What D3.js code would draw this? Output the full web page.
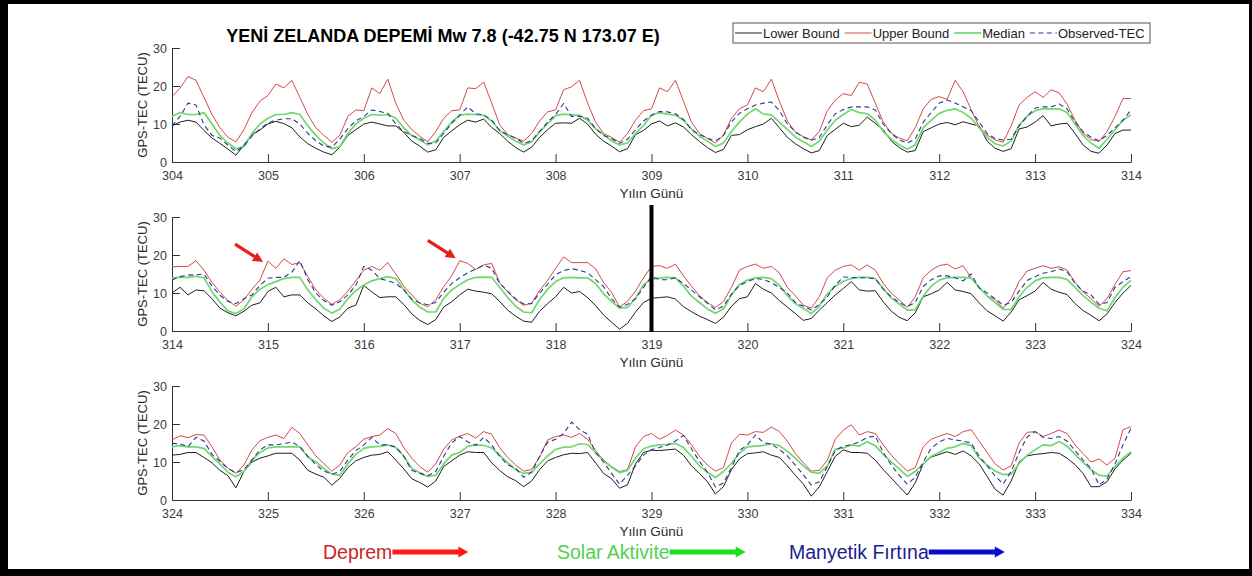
<!DOCTYPE html>
<html>
<head>
<meta charset="utf-8">
<script src="https://cdn.jsdelivr.net/npm/d3@7"></script>
<style>
  body { margin: 0; background: #fff; }
  svg { display: block; font-family: "Liberation Sans", Arial, sans-serif; }
</style>
</head>
<body>
<svg id="chart" width="1252" height="576"></svg>
<script>
// TEC values, one value every 2 hours (12 per day), 10 days per panel + end point

// panel 1: day 304 - 314
const upper1 = [
  17.2, 19.4, 22.5, 21.5, 17, 12.5, 9, 6.5, 5.3, 8.5, 13, 16,
  17.5, 20.5, 19.5, 21.5, 17, 12.5, 9, 7, 5.2, 7, 12, 13.7,
  13.5, 19.5, 18, 21.8, 15.5, 11, 8.5, 6.8, 5.3, 8, 11.5, 13.5,
  13.7, 19.5, 19.3, 21, 15.5, 9.8, 7.2, 6.3, 5.5, 7.5, 10.8, 13.2,
  13.7, 19, 19.8, 21.5, 15.5, 10.5, 7.5, 6.5, 5.2, 7.5, 11, 13.5,
  14, 19.5, 18.5, 21.5, 16, 10.5, 7.5, 6.2, 5, 7, 11.5, 14,
  15, 19.5, 18.5, 21.8, 16, 10.8, 7.8, 6.7, 5.8, 8, 13.5, 16.3,
  18, 17.5, 21, 20.5, 15.5, 10.5, 7.6, 6.3, 5.6, 9, 14, 16.5,
  17.2, 16.5, 21.5, 18.5, 13.7, 9.3, 7.1, 5.8, 5.2, 9.5, 15, 17,
  18.5, 17, 19, 18.2, 15.2, 11, 7.6, 5.9, 5.4, 8, 12, 16.7,
  16.7
];
const median1 = [
  12, 13, 12.5, 12.5, 13, 10, 7, 5, 3.5, 4, 7.5, 10,
  11.5, 12.5, 12.5, 13, 12.5, 9.5, 7, 5, 3.5, 4, 7.5, 10,
  11.5, 12.5, 12.3, 12.5, 11.5, 9, 7, 5.8, 4.5, 5.5, 8, 10.5,
  12.3, 12.6, 12.5, 12.3, 10.8, 8.3, 6.8, 5.5, 4.5, 5.3, 8, 10,
  12.2, 12.6, 12.4, 12.3, 11, 8.8, 7.2, 5.6, 4.5, 5, 7.5, 9.6,
  12.3, 13, 12.6, 12.3, 11, 8.7, 6.8, 5.5, 4.1, 5, 8, 10.5,
  12.6, 14, 12.6, 12.4, 10.5, 8.5, 6.6, 5.3, 4.1, 5.5, 8.5, 11,
  12.5, 13.8, 13, 12.7, 11, 8, 6, 4.5, 3.4, 4.5, 9, 11,
  12.8, 13.6, 14, 13, 11.5, 9, 6.5, 4.8, 4.2, 5.5, 9.7, 12,
  13.5, 14, 14, 14, 13, 10, 7, 5, 3.6, 6, 8.5, 11,
  12.4
];
const observed1 = [
  9.5, 12, 15.5, 15, 9.8, 7, 6.3, 4.4, 2.8, 4.2, 6.8, 8.7,
  10.3, 11, 11.4, 11.4, 10, 7.5, 5.6, 4.2, 3.9, 6, 8.8, 10.8,
  12, 13.7, 13.3, 12.8, 10, 8, 7, 6.2, 4.9, 5, 7.5, 10.2,
  12.3, 14.5, 12.7, 12.4, 11, 8.3, 7.2, 6.3, 4.9, 5.6, 8, 10.5,
  12.5, 15.4, 12, 12, 11.5, 8.8, 7, 6.2, 4.9, 6, 8.5, 10.8,
  12.3, 13.3, 13.2, 12.7, 11.2, 8.5, 7.2, 6.3, 5.5, 7, 10.5, 12.8,
  14, 15, 15.5, 15.8, 13.5, 10, 8, 6.5, 5.7, 6.5, 9.8, 12.7,
  13.8, 14.5, 14.5, 14.5, 13.7, 10, 7.5, 5.8, 5, 6, 10.5, 13,
  15.5, 16.3, 15.5, 14.5, 13.5, 10.5, 7.5, 6.2, 5.8, 6, 9.5, 12,
  14.2, 14.5, 14.5, 15.3, 14, 10.5, 8, 6.5, 5.6, 7, 9, 11,
  13.7
];
const lower1 = [
  9.5, 10.5, 11, 10.5, 8.3, 6.3, 4.9, 3.4, 1.8, 4.5, 7.2, 8.4,
  10, 10.7, 10.1, 9, 6.6, 4.8, 3.6, 2.6, 1.9, 3.9, 7, 8.5,
  10, 10.5, 10, 9.5, 9.5, 7.8, 5.5, 4.2, 2.6, 3.2, 6.5, 8.2,
  9.8, 11, 10.5, 11.3, 9.1, 7.5, 5.5, 3.8, 2.6, 3.9, 6.5, 8.5,
  10.2, 10.3, 10.2, 11.5, 10, 7.3, 5.5, 4.2, 2.7, 3.5, 7.2, 8.3,
  10, 10.8, 9.5, 10.3, 9.2, 7.2, 5.4, 3.8, 2.5, 3.3, 7, 7.2,
  8.5, 9.3, 10, 11.5, 9, 6.5, 4.8, 3.5, 2.4, 3, 7, 8.6,
  10.2, 9.3, 9.7, 11.8, 10.2, 8.5, 5.5, 3.8, 2.6, 3, 8, 9,
  10, 10.4, 9.8, 10.6, 10, 9.5, 5.5, 3.6, 2.8, 3.5, 8.7, 9.2,
  10.5, 12.2, 9.5, 10, 10.2, 7.5, 4.5, 2.8, 2.3, 4.5, 7.5, 8.4,
  8.4
];

// panel 2: day 314 - 324
const upper2 = [
  16.9, 17, 17, 18.5, 16, 12.8, 10.2, 8, 6.5, 8.2, 11, 13.4,
  18.4, 16.5, 19, 17.5, 18, 14.3, 10.8, 8.6, 7, 8.2, 10.5, 13.2,
  16, 17, 16, 18, 15, 11.8, 9.5, 7.3, 6.4, 8.2, 11.7, 14.5,
  18.5, 17.8, 16.2, 17.4, 17.8, 12.7, 10.3, 8.2, 6.8, 7.3, 10.7, 13.3,
  16.5, 19.5, 18, 18, 18, 16.4, 12.8, 10.2, 6.3, 7.8, 10.5, 14,
  17, 17.2, 16.5, 17.6, 14.5, 11.8, 9.3, 7.5, 6.2, 7.7, 11.5, 16,
  17, 17.6, 16.5, 17, 15.3, 11.5, 9.3, 6.8, 6, 9, 14, 16,
  17, 17.4, 16, 17.4, 16, 12.5, 9.9, 8.2, 6.2, 9, 14, 16,
  17.2, 17.6, 16.3, 17.2, 14, 11.3, 9.2, 8.3, 6, 8.5, 13, 15.8,
  16.5, 17.2, 16.5, 16.9, 16, 12.8, 10.3, 8.5, 6.5, 8.5, 12.3, 15.6,
  15.9
];
const median2 = [
  13.9, 14.2, 14.1, 14.4, 14, 10.3, 7.6, 5.3, 4.6, 5.8, 9, 11,
  12.2, 13, 13.8, 14.1, 14.1, 10.8, 8.2, 6, 4.7, 5.7, 8.5, 10.6,
  12.1, 13.2, 13.8, 14.3, 13.8, 11, 8.2, 6.3, 5, 5, 8.6, 10.8,
  12.2, 13.5, 14.1, 14.2, 14.1, 11.5, 8.8, 6.5, 5, 4.8, 8.3, 11,
  13, 14, 14.1, 14, 14, 12.5, 9.8, 7.8, 6, 6.2, 8.6, 12.2,
  13.7, 13.9, 14.1, 14, 11.8, 9.2, 7.5, 5.8, 4.7, 5.8, 9.5, 12.2,
  13.4, 14, 14.1, 13.8, 12, 9.3, 7.2, 5.9, 4.6, 6.5, 9.8, 11.8,
  13.1, 13.8, 14.1, 14.1, 13.8, 11.2, 8.7, 7.1, 5.5, 5.6, 9.2, 11.8,
  13.4, 14, 14.1, 14.1, 13.9, 11.5, 9.2, 7.5, 5.7, 5.6, 9, 11.5,
  13.2, 14, 14.1, 14.1, 13.6, 11.5, 9.3, 7.6, 6, 5.3, 8.8, 11.5,
  13.4
];
const observed2 = [
  13.4, 14.3, 14.7, 14.8, 15, 11.8, 9.4, 7.8, 7.2, 8.5, 9.5, 12,
  13.9, 14.1, 14.1, 15.5, 18.5, 13.5, 10, 8, 6.8, 7.7, 9.5, 12,
  17, 16, 13.8, 13.2, 12.5, 10.8, 8.4, 7.4, 6.9, 7.5, 10.2, 12.5,
  14, 15.3, 16.3, 17.3, 16.5, 12.5, 10.5, 8.5, 7.1, 7.2, 10, 12.3,
  14.8, 15.9, 16.4, 16, 15.3, 13.5, 11.7, 8.5, 6.3, 7, 8.5, 11.5,
  14.3, 13.5, 13.5, 14, 12.5, 10.8, 9, 7.3, 5.6, 6.5, 9.7, 12,
  13, 13.8, 13.6, 12.7, 11.5, 10, 7.5, 6.5, 5.5, 7, 9, 12,
  14.2, 14.1, 14, 14, 13.8, 11, 9, 7.5, 6.4, 7.5, 11.7, 13.5,
  14.5, 14.5, 14, 13.2, 15, 11.3, 10, 8.5, 6.8, 7.5, 10.5, 13.3,
  14.3, 15.2, 15.6, 16.3, 15.6, 12.5, 10.5, 9.5, 7, 7.5, 11.5, 13,
  14.3
];
const lower2 = [
  10, 11.5, 9.5, 10.8, 10.6, 8.5, 6, 4.8, 4, 5.2, 6.8, 7.4,
  10.4, 11.5, 9, 9.5, 9.5, 7.4, 5.8, 4, 2.5, 3.7, 6, 6.8,
  12, 10.3, 8.8, 9, 9, 7, 4.5, 2.8, 1.7, 3, 6.3, 7.7,
  9.5, 11, 10.5, 10.2, 9.8, 7.8, 5.5, 3.9, 2.6, 2.3, 5.2, 7.2,
  9, 11.5, 10, 10.4, 8.8, 6.7, 4.2, 2.3, 0.5, 2, 5, 7.5,
  8.6, 8.8, 9, 8.4, 6.4, 5.1, 3.9, 3, 2, 3.6, 6.5, 8.5,
  9, 12.5, 11, 10, 8, 6.3, 4.6, 2.8, 3.3, 5.5, 7.5, 9.5,
  11.2, 13, 10.8, 10.5, 10.6, 7.7, 5.2, 3.6, 2.7, 4.8, 9, 9.8,
  10.8, 12.8, 10.8, 10.4, 9.8, 7.4, 5.3, 4, 2.6, 5, 8.2, 9.3,
  10.5, 12.8, 11, 10.2, 9.6, 7.2, 5.4, 4.1, 2.7, 4.5, 7.5, 10,
  12
];

// panel 3: day 324 - 334
const upper3 = [
  15.8, 16.9, 16.4, 17.2, 17.1, 14, 10.5, 8.3, 7, 9.2, 13.2, 15.6,
  16.5, 17.1, 16.2, 19.1, 17.5, 14.5, 11.6, 9.6, 7.6, 9.2, 12.5, 14,
  16, 16.7, 17.1, 18.8, 17.5, 13.8, 11, 8.8, 7.3, 9.5, 13.4, 15.8,
  16.8, 17.5, 16.3, 18, 17.3, 13.8, 11.2, 9.2, 7.6, 8, 11.3, 15.8,
  16.7, 17.1, 16.5, 17.5, 16, 13, 10.5, 8.8, 7.5, 8, 14, 16.7,
  17.5, 16, 17, 18.4, 17.1, 14.5, 11.5, 9.2, 7.6, 8.5, 15, 17.3,
  17.1, 18, 17.8, 19.2, 18, 15.5, 12.2, 9.8, 7.6, 7.8, 10.5, 16,
  18.4, 19.8, 17.1, 18, 17.5, 14.5, 11.8, 9.6, 7.6, 8.5, 14, 16,
  16.8, 17.5, 16.7, 18, 18.5, 15.5, 12.5, 9.5, 7.9, 9, 15, 17.8,
  18, 16.7, 17.5, 18.4, 17.5, 14.5, 12.2, 10, 10.8, 9.2, 11, 18.5,
  19.3
];
const median3 = [
  14, 14.3, 14, 14, 13.6, 11.5, 9.5, 7.3, 6.1, 7.5, 10.5, 12.5,
  13.7, 14, 14, 14, 14, 11.3, 10, 8.3, 6.8, 6.5, 9.5, 12,
  13.6, 14, 14.1, 14.5, 13.8, 11.6, 8.3, 7.2, 6.2, 6.5, 9.5, 11.8,
  12.5, 14.1, 14.5, 14.4, 13.7, 11.8, 9.8, 8, 7, 7.3, 9.5, 11.6,
  13.3, 13.9, 14, 14.8, 14.6, 12.5, 10.3, 8.6, 7.2, 7.8, 11, 13.5,
  14.2, 14.5, 14.6, 14.9, 13.8, 11.5, 9, 7.3, 5.9, 7.5, 9.6, 12.3,
  14, 14.2, 14.4, 14.8, 14.3, 12.8, 11, 9, 7.3, 7, 9, 13.4,
  13.7, 14.5, 14.2, 15.3, 14.3, 12, 10, 8.2, 6.2, 7.5, 9.5, 11.5,
  12.5, 13.6, 14, 14.9, 14.3, 11, 9.2, 7.6, 6.7, 6.8, 9.6, 11.8,
  13.2, 14.5, 14.3, 15.4, 14.2, 12, 9.9, 8, 6.5, 6.3, 8.8, 11,
  12.7
];
const observed3 = [
  14.9, 14.8, 14, 16.5, 15.5, 12, 10.2, 8.3, 7.2, 8, 10.5, 13.2,
  14.5, 14.5, 14.8, 15.3, 14, 11.5, 9.3, 7.6, 6.8, 7.5, 10.5, 13,
  14.5, 16.5, 14.5, 14.5, 14, 11.5, 7.8, 7, 6.4, 7.5, 11.5, 15,
  16.7, 15.3, 14.4, 16.5, 14.5, 11.5, 9.3, 8.3, 6, 7.3, 11.5, 15.2,
  16, 17.5, 20.5, 18.5, 17.3, 12.5, 10, 7, 4.2, 6.5, 9, 11.8,
  13.3, 13.8, 14.5, 15.5, 17, 13.5, 10.2, 7.3, 3.4, 4.5, 8.5, 13,
  14.5, 17.1, 15.1, 14.7, 13.3, 11.6, 9.2, 6.6, 3.9, 4.8, 8.8, 13,
  14.2, 14.5, 15.3, 16.5, 16.8, 12.5, 9.2, 6.5, 4.2, 6, 10, 13.6,
  15.3, 16.2, 15.8, 15.5, 15, 11.5, 9, 6.3, 4.2, 7.5, 12.5, 16.6,
  18, 16.5, 16.2, 16.7, 15.5, 13, 10.5, 8.3, 4, 5.5, 9.5, 14.5,
  18.9
];
const lower3 = [
  11.8, 12, 12.5, 12.5, 11.2, 9.8, 7.8, 6.4, 3.2, 7.5, 10, 11,
  11.6, 12.3, 12.3, 12.3, 10.5, 7.8, 6.8, 6, 3.9, 5.7, 8.5, 10.3,
  11.2, 11.8, 12, 12.7, 10.5, 8.2, 5.6, 4.6, 3.4, 5, 8.8, 10.3,
  11.8, 12.7, 12.5, 12.5, 9.8, 7.8, 6.1, 5.1, 3.5, 5, 8, 10.3,
  11.2, 11.9, 12.3, 12.2, 12.5, 9.8, 7, 5.6, 3.1, 4, 9.5, 12.5,
  13.1, 13, 13.2, 13.4, 11.8, 9, 7, 4.8, 1.6, 3.5, 8, 10.8,
  12.2, 12.4, 12.7, 11.8, 11.2, 9, 6.5, 4.2, 1, 3.5, 7.5, 11.5,
  13.2, 12.5, 12.5, 12.3, 10.5, 8, 5.8, 3.5, 1.3, 4.5, 9.5, 11.3,
  12, 12.7, 12, 12.9, 11.6, 9.5, 6.2, 2.8, 1.3, 5, 10, 11.6,
  12, 12.2, 12.5, 12.3, 11, 9.3, 7, 3.5, 3.5, 4.8, 8.2, 10.5,
  12.3
];

const panelStartDays = [304, 314, 324];
const yTicks = [0, 10, 20, 30];
const seriesKeys = ["lower", "upper", "median", "observed"];
const legendLabels = ["Lower Bound", "Upper Bound", "Median", "Observed-TEC"];
const titleText = "YENİ ZELANDA DEPEMİ Mw 7.8 (-42.75 N 173.07 E)";
const xLabel = "Yılın Günü";
const yLabel = "GPS-TEC (TECU)";
const eventDay = 319;
const markedPeaks = [[314.97, 18.4], [316.98, 19.4]];   // [day, TECU] in panel 2
const noteLabels = ["Deprem", "Solar Aktivite", "Manyetik Fırtına"];

const stepsPerDay = 12;
const panelData = [
  { lower: lower1, upper: upper1, median: median1, observed: observed1 },
  { lower: lower2, upper: upper2, median: median2, observed: observed2 },
  { lower: lower3, upper: upper3, median: median3, observed: observed3 }
];

// layout + styles
const plotLeft = 172, plotRight = 1131;
const panelTops = [48, 217, 386];
const panelHeight = 114;
const styles = {
  lower:    { color: "#1e1e1e", width: 1,   dash: null },
  upper:    { color: "#cf4b4b", width: 1,   dash: null },
  median:   { color: "#6fd86f", width: 1.7, dash: null },
  observed: { color: "#2c3990", width: 1.1, dash: "5,3.5" }
};
const axisColor = "#333";
const tickTextColor = "#3c3c3c";

const svg = d3.select("#chart");

// black frame
svg.append("rect").attr("width", 1252).attr("height", 576).attr("fill", "#000");
svg.append("rect").attr("x", 8).attr("y", 4).attr("width", 1241).attr("height", 565).attr("fill", "#fff");

function arrowPath(x1, y1, x2, y2, shaft, headLen, headHalf) {
  const dx = x2 - x1, dy = y2 - y1, L = Math.hypot(dx, dy);
  const ux = dx / L, uy = dy / L, nx = -uy, ny = ux;
  const bx = x2 - ux * headLen, by = y2 - uy * headLen;
  const pts = [
    [x1 + nx * shaft / 2, y1 + ny * shaft / 2],
    [bx + nx * shaft / 2, by + ny * shaft / 2],
    [bx + nx * headHalf, by + ny * headHalf],
    [x2, y2],
    [bx - nx * headHalf, by - ny * headHalf],
    [bx - nx * shaft / 2, by - ny * shaft / 2],
    [x1 - nx * shaft / 2, y1 - ny * shaft / 2]
  ];
  return "M" + pts.map(p => p.join(",")).join("L") + "Z";
}

panelStartDays.forEach((start, p) => {
  const top = panelTops[p], bottom = top + panelHeight;
  const x = d3.scaleLinear().domain([start, start + 10]).range([plotLeft, plotRight]);
  const y = d3.scaleLinear().domain([0, 30]).range([bottom, top]);
  const g = svg.append("g");

  // x axis
  const xAxis = g.append("g")
    .attr("transform", `translate(0,${bottom})`)
    .call(d3.axisBottom(x).tickValues(d3.range(start, start + 11)).tickFormat(d3.format("d"))
      .tickSizeInner(-8).tickSizeOuter(0).tickPadding(9.5));
  // y axis
  const yAxis = g.append("g")
    .attr("transform", `translate(${plotLeft},0)`)
    .call(d3.axisLeft(y).tickValues(yTicks).tickSizeInner(-8).tickSizeOuter(0).tickPadding(5));

  [xAxis, yAxis].forEach(a => {
    a.select(".domain").attr("stroke", axisColor);
    a.selectAll(".tick line").attr("stroke", axisColor);
    a.selectAll(".tick text").attr("fill", tickTextColor)
      .style("font-family", "'Liberation Sans', Arial, sans-serif").style("font-size", "12.5px");
  });

  // lines
  const data = panelData[p];
  seriesKeys.forEach(key => {
    const line = d3.line()
      .x((d, i) => x(start + i / stepsPerDay))
      .y(d => y(d));
    const st = styles[key];
    g.append("path")
      .attr("d", line(data[key]))
      .attr("fill", "none")
      .attr("stroke", st.color)
      .attr("stroke-width", st.width)
      .attr("stroke-linejoin", "round")
      .attr("stroke-dasharray", st.dash);
  });

  // axis titles
  g.append("text")
    .attr("x", (plotLeft + plotRight) / 2).attr("y", bottom + 36)
    .attr("text-anchor", "middle")
    .attr("fill", "#2a2a2a").style("font-size", "13.5px")
    .text(xLabel);
  g.append("text")
    .attr("transform", `translate(147,${(top + bottom) / 2}) rotate(-90)`)
    .attr("text-anchor", "middle")
    .attr("fill", "#2a2a2a").style("font-size", "13px")
    .text(yLabel);

  // panel 2 annotations: event line and marked peaks
  if (start === 314) {
    g.append("line")
      .attr("x1", x(eventDay)).attr("x2", x(eventDay))
      .attr("y1", top - 12).attr("y2", bottom + 1)
      .attr("stroke", "#000").attr("stroke-width", 4);
    markedPeaks.forEach(([d, v]) => {
      const tx = x(d) - 2, ty = y(v) + 1;
      g.append("path")
        .attr("d", arrowPath(tx - 28, ty - 18, tx, ty, 3.2, 10, 5))
        .attr("fill", "#e3201b");
    });
  }
});

// title
svg.append("text")
  .attr("x", 443).attr("y", 41.5)
  .attr("text-anchor", "middle")
  .style("font-size", "18px").style("font-weight", "bold")
  .attr("fill", "#000")
  .text(titleText);

// legend
const legend = svg.append("g");
legend.append("rect")
  .attr("x", 733).attr("y", 23).attr("width", 417).attr("height", 20)
  .attr("fill", "#fff").attr("stroke", "#555").attr("stroke-width", 1);
let lx = 735;
seriesKeys.forEach((key, i) => {
  const st = styles[key];
  legend.append("line")
    .attr("x1", lx).attr("x2", lx + 27).attr("y1", 33).attr("y2", 33)
    .attr("stroke", st.color).attr("stroke-width", st.width)
    .attr("stroke-dasharray", st.dash);
  const t = legend.append("text")
    .attr("x", lx + 28).attr("y", 37.5)
    .attr("fill", "#222").style("font-size", "13px")
    .text(legendLabels[i]);
  lx += 28 + t.node().getComputedTextLength() + 5;
});

// bottom notes with arrows
const noteX = [323, 557, 789];
const noteText = ["#c8262c", "#4fd24f", "#1c1c8e"];
const noteArrow = ["#ff1a1a", "#19e019", "#0a0acc"];
noteLabels.forEach((label, i) => {
  const t = svg.append("text")
    .attr("x", noteX[i]).attr("y", 559)
    .attr("fill", noteText[i]).style("font-size", "19.5px")
    .text(label);
  const x0 = noteX[i] + t.node().getComputedTextLength();
  svg.append("path")
    .attr("d", arrowPath(x0, 552, x0 + 76, 552, 5, 10, 5.5))
    .attr("fill", noteArrow[i]);
});
</script>
</body>
</html>
